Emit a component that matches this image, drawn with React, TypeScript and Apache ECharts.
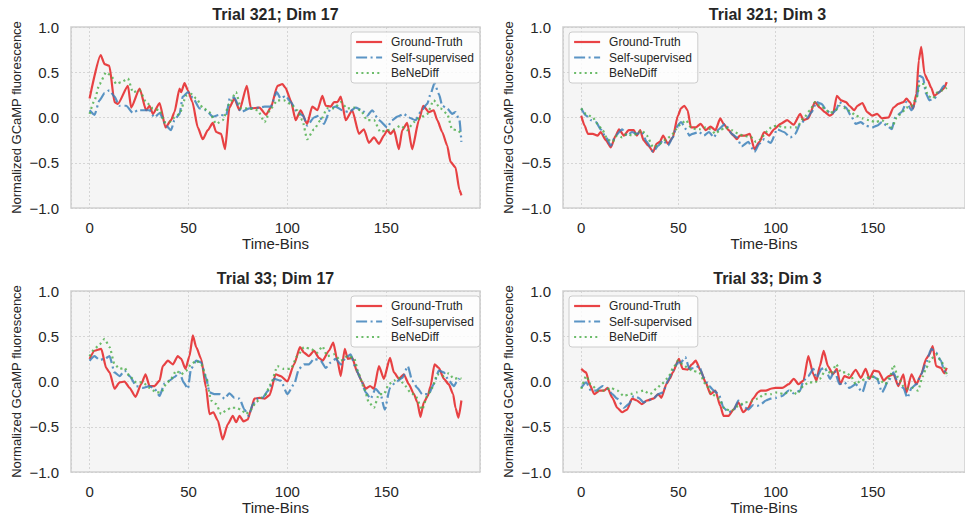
import React, { useEffect, useRef } from "react";
import * as echarts from "echarts";

// ---- data: [time-bin, normalized fluorescence] ----
const t321d17GT = [[0,0.21],[5.6,0.69],[7.6,0.59],[10,0.57],[12.6,0.17],[14.3,0.15],[19.4,0.35],[21,0.11],[25.3,0.32],[28.6,0.08],[30.3,0.13],[32,0.04],[35.4,0.16],[38.4,-0.11],[41.2,-0.03],[42.9,0.06],[45.5,0.32],[46.3,0.28],[48,0.38],[49.7,0.3],[52,0.17],[54.7,-0.11],[57.2,-0.24],[59.8,-0.14],[62.3,-0.06],[64,-0.16],[66.5,-0.18],[68.5,-0.35],[70.7,0.11],[73.2,0.21],[75.8,0.08],[79.5,0.35],[81.6,0.1],[85.9,0.11],[89.2,0.03],[91.6,0.11],[95,0.35],[97.5,0.37],[99,0.33],[101.7,0.19],[104.2,-0.03],[106.7,0.08],[110,-0.07],[112.6,0.12],[115.2,0.08],[117.7,0.24],[119.4,0.13],[121.9,0.12],[123.6,0.17],[125.3,0.17],[127,0.23],[129.5,-0.03],[132.8,0.08],[136.2,-0.18],[138.7,-0.13],[141.2,-0.28],[143.8,-0.22],[146.3,-0.29],[148.8,-0.2],[150.5,-0.14],[152.2,-0.18],[153.9,-0.14],[156.4,-0.35],[158.1,-0.14],[160.6,-0.06],[163.1,-0.35],[166.5,-0.03],[168.7,0.13],[171.5,0.06],[174,0.08],[175.8,-0.03],[178.3,-0.16],[180.8,-0.31],[182.5,-0.49],[185,-0.55],[187,-0.8],[188,-0.86]];
const t321d17SS = [[0,0.08],[2.5,0.03],[5,0.19],[7.6,0.27],[10,0.3],[12.6,0.23],[15,0.13],[18.5,0.13],[21.9,0.05],[24.4,0.08],[27.8,0.08],[30.3,0.08],[32.8,0],[35.4,0.05],[38.7,-0.09],[41.2,-0.14],[42.9,-0.03],[45.5,0.04],[47.1,0.23],[49.7,0.28],[52.2,0.22],[55.6,0.1],[58.9,0.08],[62.3,0.01],[65.7,0.03],[69,0.02],[71,0.22],[73.2,0.22],[76.6,0.06],[80.8,0.1],[85.9,0.11],[88.5,0.12],[91.6,0.12],[94.6,0.28],[96.6,0.21],[99.2,0.24],[101.7,0.17],[105,0.06],[108,0.02],[110,-0.09],[113.5,0],[116,0.02],[118.5,-0.07],[121.9,0.1],[124.4,0.12],[127.8,0.08],[131.1,0.06],[134.5,0.11],[137.9,0.08],[140.4,0.02],[142.9,0.08],[146.3,-0.03],[150.5,-0.11],[153,-0.03],[155.6,0.01],[158.9,0.04],[161.4,0],[164.8,-0.03],[167.3,0.06],[170.7,0.15],[172.4,0.26],[174.4,0.38],[176.6,0.26],[178.3,0.13],[180.8,0.1],[183.3,0.04],[185,0.06],[187,-0.03],[188,-0.27]];
const t321d17BD = [[0,0.04],[2.5,0.19],[5,0.37],[8.4,0.5],[10.9,0.46],[13.5,0.37],[16,0.39],[19.4,0.43],[21.9,0.28],[25.3,0.3],[28.6,0.17],[32,0.1],[35.4,0.08],[37.9,-0.05],[40.4,-0.05],[42.9,0],[45.5,0.04],[48.8,0.24],[51.3,0.26],[53.9,0.21],[57.2,0.11],[60.6,0.06],[64,-0.07],[67.3,-0.03],[70.7,0.15],[74,0.28],[76.6,0.1],[80.8,0.1],[85,0.08],[88.5,-0.05],[91.6,0.1],[95,0.19],[98.3,0.19],[101.7,0.15],[105,0.08],[107.6,-0.03],[110,-0.24],[113.5,-0.13],[116.8,-0.03],[120.2,0.1],[123.6,0.1],[127,0.17],[130.3,0.1],[133.7,0.11],[137,0.08],[140.4,-0.03],[143.8,-0.03],[147.1,-0.16],[150.5,-0.14],[153.9,-0.13],[157.2,-0.09],[160.6,-0.14],[164,-0.05],[167.3,0],[170.7,0.04],[174,0.19],[177.4,0.1],[180.8,0.04],[183.3,-0.13],[185.9,-0.14],[188,-0.18]];

const t321d3GT = [[0,0.02],[1.7,-0.09],[3.4,-0.18],[5.9,-0.18],[8.4,-0.2],[10,-0.16],[12.6,-0.25],[15.2,-0.33],[17.7,-0.2],[19.4,-0.13],[21.9,-0.2],[24.4,-0.14],[27,-0.14],[28.6,-0.2],[30.3,-0.14],[32,-0.25],[34.5,-0.31],[37,-0.38],[38.7,-0.29],[40.4,-0.27],[42.1,-0.2],[44.6,-0.29],[47.1,-0.22],[49.7,0.02],[51.3,0.1],[53,0.13],[54.7,0.08],[56.4,-0.11],[58.9,-0.11],[61.4,-0.07],[64,-0.14],[66.5,-0.1],[69,-0.14],[71.5,-0.01],[73.2,-0.07],[75.8,-0.14],[78.3,-0.2],[80,-0.24],[81.6,-0.2],[84.2,-0.2],[86.7,-0.18],[89.1,-0.35],[91.7,-0.27],[94.1,-0.16],[96.6,-0.2],[99.2,-0.13],[102.5,-0.07],[105.9,-0.03],[109.3,-0.08],[112.6,0.04],[114.3,-0.03],[116.8,-0.01],[120.2,0.17],[122.7,0.11],[125.3,0.06],[127.8,0.02],[129.5,0.04],[131.5,0.24],[133.7,0.19],[136.2,0.17],[137.9,0.13],[140.4,0.08],[142.1,0.13],[144.6,0.16],[147.1,0.06],[149.7,0.02],[152.2,0.04],[154.7,-0.01],[158.1,0],[160.6,0.11],[163.1,0.15],[165.7,0.17],[167.3,0.21],[169,0.17],[170.7,0.1],[172.4,0.26],[173.6,0.63],[174.9,0.78],[176.6,0.48],[178.3,0.41],[180,0.33],[181.6,0.24],[184.2,0.28],[186.5,0.32],[188,0.39]];
const t321d3SS = [[0,0.1],[2.5,0.02],[5,-0.03],[7.6,-0.05],[10,-0.13],[12.6,-0.22],[15.2,-0.31],[17.7,-0.2],[21,-0.13],[23.6,-0.2],[26.1,-0.16],[28.6,-0.18],[31.1,-0.16],[33.7,-0.27],[37,-0.38],[39.6,-0.31],[42.1,-0.25],[44.6,-0.31],[47.1,-0.22],[48.8,-0.11],[51.3,-0.05],[53.9,-0.13],[55.6,-0.2],[57.2,-0.18],[60.6,-0.16],[63.1,-0.2],[65.7,-0.16],[68.2,-0.22],[70.7,-0.13],[74,-0.07],[77.4,-0.18],[80,-0.22],[82.5,-0.32],[85.9,-0.27],[89.1,-0.38],[91.6,-0.29],[94.1,-0.24],[97.5,-0.28],[100.8,-0.13],[104.2,-0.16],[107.6,-0.22],[110.1,-0.18],[112.6,-0.07],[116,-0.01],[118.5,0.06],[121,0.17],[123.6,0.15],[126.1,0.08],[128.6,0.04],[131.1,0.08],[132.8,0.17],[136.2,0.11],[138.7,0.02],[141.2,-0.07],[143.8,-0.05],[146.3,-0.09],[149.7,-0.11],[152.2,-0.09],[154.7,-0.05],[157.2,-0.09],[159.8,-0.13],[161.4,0],[164.8,0.06],[167.3,0.17],[169.9,0.08],[172.4,0.19],[174.1,0.46],[175.8,0.44],[177.4,0.26],[179.1,0.19],[181.6,0.21],[184.2,0.28],[186.5,0.35],[188,0.35]];
const t321d3BD = [[0,0.1],[2.5,0.04],[5.9,0],[8.4,-0.07],[10.9,-0.14],[13.5,-0.24],[16,-0.27],[18.5,-0.2],[21,-0.22],[23.6,-0.18],[26.1,-0.2],[28.6,-0.18],[31.1,-0.14],[33.7,-0.2],[37,-0.33],[40.4,-0.29],[43.8,-0.24],[46.3,-0.2],[48.8,-0.13],[51.3,-0.07],[53.9,-0.03],[56.4,-0.11],[58.9,-0.13],[61.4,-0.13],[64,-0.11],[66.5,-0.13],[69,-0.18],[71.5,-0.14],[74,-0.11],[77.4,-0.14],[80.8,-0.18],[83.3,-0.2],[87.5,-0.22],[89.9,-0.27],[92.4,-0.24],[95,-0.16],[98.3,-0.1],[100.8,-0.09],[104.2,-0.11],[107.6,-0.11],[110.9,-0.11],[114.3,-0.01],[117.7,0.08],[120.2,0.17],[122.7,0.13],[125.3,0.1],[127.8,0.05],[130.3,0.07],[132.8,0.13],[136.2,0.1],[138.7,0.06],[141.2,0.02],[144.6,-0.01],[148,-0.03],[151.3,-0.05],[154.7,-0.03],[157.2,-0.07],[159.8,-0.11],[162.3,0],[164.8,0.05],[167.3,0.11],[169.9,0.13],[172.4,0.21],[174.1,0.37],[176.6,0.37],[178.3,0.24],[180.8,0.21],[183.3,0.28],[185.9,0.3],[188,0.33]];

const t33d17GT = [[0,0.25],[2.5,0.34],[5.9,0.36],[8.4,0.15],[10.1,0.1],[12.6,-0.08],[15.2,-0.01],[17.7,0],[20.2,-0.07],[23.2,-0.17],[26.1,-0.03],[28.3,0.08],[30.3,-0.05],[32.8,-0.05],[35.4,0.01],[37,0.17],[39.6,0.23],[42.1,0.19],[44.6,0.28],[46.3,0.25],[48.5,0.14],[50.5,0.28],[52.2,0.51],[53.9,0.38],[56.4,0.25],[58.9,-0.07],[60.6,-0.36],[62.6,-0.34],[64.8,-0.43],[67.3,-0.64],[69.9,-0.47],[72.4,-0.38],[74.1,-0.45],[75.8,-0.38],[77.8,-0.44],[80,-0.42],[81.6,-0.31],[83.3,-0.19],[85.9,-0.18],[88.5,-0.19],[91,-0.15],[94.1,0.08],[96.6,0.06],[100,0],[103.4,0.19],[106.4,0.38],[108.4,0.32],[110.9,0.28],[113.5,0.34],[116,0.26],[117.8,0.23],[121,0.34],[123.2,0.43],[125.3,0.23],[127,0.06],[129,0.36],[130.6,0.25],[132.8,0.26],[135.4,0.1],[137.9,-0.01],[139.6,-0.08],[141.8,-0.05],[143.8,-0.08],[146.3,0.17],[148.8,0.03],[151.9,0.26],[153.9,0.1],[156.4,0.03],[158.9,0.08],[161.4,-0.03],[164,-0.14],[165.7,-0.23],[167.3,-0.39],[169,-0.23],[171,-0.16],[172.4,-0.05],[174.4,0.19],[176.6,0.15],[179.1,0.03],[181.6,-0.03],[183.8,-0.14],[185,-0.29],[186.5,-0.4],[188,-0.21]];
const t33d17SS = [[0,0.23],[2.5,0.28],[5,0.24],[7.6,0.25],[10.1,0.28],[12.6,0.1],[15.2,0.06],[17.7,0.12],[20.2,0.06],[23.6,-0.05],[26.9,-0.07],[30.3,-0.05],[32.8,-0.08],[35.4,-0.16],[37.9,-0.02],[40.4,0.01],[42.9,0.05],[45.5,0.1],[47.5,-0.01],[49.7,-0.08],[51.3,0.14],[53.9,0.23],[56.4,0.21],[58.9,0.04],[60.6,-0.12],[63.1,-0.14],[65.7,-0.14],[68.2,-0.19],[70.7,-0.13],[73.2,-0.18],[75.8,-0.19],[78.3,-0.31],[80.5,-0.38],[82.5,-0.25],[85,-0.19],[87.5,-0.18],[90.3,-0.1],[93.3,0.03],[96.6,0.01],[100,-0.14],[103.4,-0.03],[105.9,0.14],[108.4,0.19],[110.9,0.19],[113.5,0.25],[116.8,0.23],[119.4,0.15],[121.9,0.21],[124.4,0.25],[127,0.19],[129.5,0.26],[132,0.3],[134.5,0.15],[137,0.03],[139.6,-0.12],[142.1,-0.19],[144.6,-0.08],[147.1,-0.14],[149.2,-0.31],[151.9,-0.07],[154.7,-0.01],[158.1,0.04],[160.9,0.17],[163.1,0.01],[165.7,-0.07],[168.2,-0.14],[171.5,-0.14],[174,-0.03],[176.6,0.12],[179.1,0.1],[181.6,0.01],[184.2,-0.05],[186.5,0.03],[188,-0.02]];
const t33d17BD = [[0,0.28],[2.5,0.36],[5,0.41],[7.6,0.47],[10.1,0.38],[12.6,0.19],[15.2,0.14],[17.7,0.15],[20.2,0.06],[23.6,-0.01],[26.9,-0.01],[30.3,-0.07],[33.7,-0.12],[36.2,-0.12],[38.7,-0.03],[41.2,0.03],[43.8,0.12],[46.3,0.08],[48.8,0.12],[51.3,0.19],[53.9,0.23],[56.4,0.19],[58.9,0.06],[61.4,-0.21],[64,-0.25],[66.5,-0.36],[69,-0.32],[71.5,-0.29],[74.1,-0.29],[76.6,-0.31],[79.1,-0.36],[81.6,-0.31],[84.2,-0.23],[86.7,-0.18],[88.7,-0.15],[91.6,-0.03],[95,0.17],[98.3,0.14],[101.7,0.14],[105,0.28],[108.4,0.38],[111.8,0.36],[115.2,0.32],[117.7,0.39],[120.2,0.28],[123.6,0.3],[127,0.23],[130.3,0.28],[133.7,0.26],[136.2,0.08],[138.7,-0.07],[141.2,-0.23],[143.8,-0.29],[146.3,-0.14],[148.8,-0.14],[151.3,-0.03],[153.9,0.01],[156.4,0.04],[158.9,-0.03],[162.3,-0.12],[164.8,-0.16],[168.2,-0.31],[170.7,-0.16],[173.2,-0.07],[175.8,0.08],[179.1,0.06],[181.6,0.09],[184.2,0.03],[186.7,0.04],[188,0.03]];

const t33d3GT = [[0,0.14],[2.5,0.1],[4.2,-0.03],[6.7,-0.14],[9.3,-0.1],[11.8,-0.1],[13.5,-0.07],[16,-0.18],[18.5,-0.29],[21,-0.34],[23.6,-0.31],[26.1,-0.19],[28.6,-0.21],[31.1,-0.25],[33.7,-0.21],[37,-0.19],[39.6,-0.14],[41.2,-0.18],[43.8,-0.03],[45.5,0.03],[47.1,0.1],[50.2,0.25],[52.2,0.14],[54.7,0.13],[56.9,0.19],[58.9,0.23],[61.4,0.12],[64,-0.01],[66.5,-0.14],[69,-0.1],[71.5,-0.27],[73.2,-0.38],[75.8,-0.38],[78.3,-0.31],[80.8,-0.23],[83.3,-0.34],[85.9,-0.29],[88.4,-0.19],[90.9,-0.12],[92.4,-0.1],[95,-0.1],[97.5,-0.08],[100,-0.07],[103.4,-0.07],[106.7,-0.03],[109.3,0.03],[111.8,-0.03],[114.3,0.01],[116.8,0.28],[119.4,0.08],[121,0.01],[122.7,0.17],[124.7,0.34],[126.9,0.17],[129.5,0.08],[131.5,0.14],[133.2,-0.03],[135.4,0.06],[137.9,0.04],[141.2,0.13],[143.8,0.04],[146.3,0.14],[148.3,0.03],[150.5,0.12],[153,0.11],[155.6,0.01],[158.1,0.06],[160.6,0.08],[163.1,-0.05],[165.7,0.08],[167.3,-0.12],[169.9,0.08],[172.4,-0.03],[174.9,0.08],[177.4,0.25],[179.1,0.3],[180.8,0.39],[182.5,0.17],[185,0.15],[186.7,0.09],[188,0.15]];
const t33d3SS = [[0,-0.07],[2.5,-0.01],[5,-0.1],[7.6,-0.1],[10.9,-0.05],[13.5,-0.08],[16,-0.14],[18.5,-0.19],[21.9,-0.29],[24.4,-0.25],[27,-0.16],[29.5,-0.18],[32,-0.23],[34.5,-0.21],[37,-0.19],[39.6,-0.14],[42.1,-0.12],[44.6,0.01],[47.1,0.12],[49.7,0.21],[51.3,0.21],[53.5,0.27],[55.6,0.14],[58.1,0.15],[60.6,0.17],[63.1,0.04],[65.7,-0.05],[68.2,-0.1],[70.7,-0.14],[73.2,-0.29],[75.8,-0.34],[78.3,-0.32],[80.8,-0.21],[83.3,-0.27],[85.9,-0.31],[88.4,-0.26],[90.5,-0.27],[92.4,-0.25],[95,-0.21],[97.5,-0.19],[100,-0.18],[103.4,-0.16],[106.7,-0.1],[109.3,-0.13],[112.6,-0.1],[114.3,0.01],[116.8,0.06],[119.4,0.14],[121,0.04],[123.6,0.14],[125.3,0.15],[128,0.03],[130.3,0.12],[132.8,-0.03],[135.4,-0.01],[137.9,-0.07],[141.2,-0.03],[144.6,-0.12],[147.1,0.03],[149.7,0.06],[152.2,0.03],[154.7,-0.12],[158.1,0.01],[160.6,0.1],[163.1,-0.03],[165.7,-0.07],[167.8,-0.18],[169.9,-0.07],[172.4,-0.03],[174.9,0.08],[177.4,0.21],[180,0.36],[182.5,0.32],[185,0.23],[186.7,0.12],[188,0.06]];
const t33d3BD = [[0,-0.08],[2.5,0.06],[5,-0.03],[8.4,-0.1],[11.8,-0.1],[15.2,-0.07],[18.5,-0.1],[21.9,-0.16],[25.3,-0.14],[28.6,-0.12],[32,-0.1],[35.4,-0.14],[38.7,-0.08],[41.2,-0.03],[44.6,0.04],[47.1,0.14],[49.7,0.23],[52.2,0.19],[54.7,0.15],[57.2,0.12],[60.6,0.1],[64,-0.03],[67.3,-0.14],[70.7,-0.19],[74.1,-0.31],[77.4,-0.32],[80.8,-0.27],[84.2,-0.23],[87.5,-0.22],[90.8,-0.19],[94.1,-0.14],[97.5,-0.14],[100.8,-0.12],[104.2,-0.14],[107.6,-0.1],[110.9,-0.14],[114.3,-0.05],[116.8,-0.01],[120.2,-0.01],[122.7,0.03],[126.1,0.14],[128.6,0.08],[131.1,0.19],[133.7,0.1],[136.2,0.1],[138.7,0.06],[141.2,-0.03],[143.8,0.01],[146.3,0.03],[148.8,0.06],[151.3,0.04],[153.9,0.01],[156.4,-0.03],[158.9,0.06],[160.6,0.18],[163.1,0.04],[165.7,-0.05],[168.2,-0.08],[170.7,-0.07],[173.2,-0.1],[175.8,0.06],[177.4,0.15],[180,0.25],[182.5,0.3],[185,0.23],[188,0.08]];

const seriesNames = ["Ground-Truth", "Self-supervised", "BeNeDiff"];
const panelTitles = ["Trial 321; Dim 17", "Trial 321; Dim 3", "Trial 33; Dim 17", "Trial 33; Dim 3"];
const panelData = [
  [t321d17GT, t321d17SS, t321d17BD],
  [t321d3GT, t321d3SS, t321d3BD],
  [t33d17GT, t33d17SS, t33d17BD],
  [t33d3GT, t33d3SS, t33d3BD],
];
const yTicks = [-1, -0.5, 0, 0.5, 1];
const xLabel = "Time-Bins";
const yLabel = "Normalized GCaMP fluorescence";

// ---- layout / style ----
const FONT = '"Liberation Sans", Arial, Helvetica, sans-serif';
const TEXT = "#262626";
const COLORS = ["#e41a1c", "#377eb8", "#4daf4a"];
const DASHES: any[] = ["solid", [11, 3.5, 2, 3.5], [2, 3.3]];
const GRIDS = [
  { left: 71, top: 27, legendLeft: 351 },
  { left: 563, top: 27, legendLeft: 569 },
  { left: 71, top: 291, legendLeft: 351 },
  { left: 563, top: 291, legendLeft: 569 },
];
const GW = 409;
const GH = 181;

const fmtY = (v: number) => (v < 0 ? "\u2212" : "") + Math.abs(v).toFixed(1);

export default function App() {
  const ref = useRef<HTMLDivElement>(null);
  useEffect(() => {
    if (!ref.current) return;
    const chart = echarts.init(ref.current, undefined, { renderer: "svg" });
    const grid: any[] = [];
    const xAxis: any[] = [];
    const yAxis: any[] = [];
    const series: any[] = [];
    const legend: any[] = [];
    const graphic: any[] = [];
    GRIDS.forEach((g, i) => {
      grid.push({
        left: g.left, top: g.top, width: GW, height: GH,
        show: true, backgroundColor: "#f5f5f5", borderColor: "#cfcfcf", borderWidth: 1.5,
        containLabel: false,
      });
      xAxis.push({
        type: "value", gridIndex: i, min: -9.4, max: 197.4, splitNumber: 4,
        axisLine: { show: false }, axisTick: { show: false },
        axisLabel: { showMinLabel: false, showMaxLabel: false, color: TEXT, fontSize: 15, fontFamily: FONT, margin: 12 },
        splitLine: { show: true, lineStyle: { color: "#cdcdcd", width: 0.8, type: [2, 2] } },
        name: xLabel, nameLocation: "middle", nameGap: 28,
        nameTextStyle: { color: TEXT, fontSize: 15, fontFamily: FONT },
      });
      yAxis.push({
        type: "value", gridIndex: i, min: yTicks[0], max: yTicks[yTicks.length - 1], interval: 0.5,
        axisLine: { show: false }, axisTick: { show: false },
        axisLabel: { color: TEXT, fontSize: 15, fontFamily: FONT, margin: 12, formatter: fmtY },
        splitLine: { show: true, lineStyle: { color: "#cdcdcd", width: 0.8, type: [2, 2] } },
        name: yLabel, nameLocation: "middle", nameGap: 48,
        nameTextStyle: { color: TEXT, fontSize: 13, fontFamily: FONT },
      });
      panelData[i].forEach((d, k) => {
        series.push({
          type: "line", name: seriesNames[k], xAxisIndex: i, yAxisIndex: i,
          data: d, symbol: "none", showSymbol: false, smooth: 0.2, smoothMonotone: "x",
          color: COLORS[k],
          lineStyle: { color: COLORS[k], width: 2.2, type: DASHES[k], opacity: 0.82, cap: "butt" },
          itemStyle: { color: COLORS[k] },
          emphasis: { disabled: true },
          z: 2 + k,
        });
      });
      legend.push({
        data: seriesNames, orient: "vertical", left: g.legendLeft, top: g.top + 5,
        itemWidth: 26, itemHeight: 13, itemGap: 3.5,
        padding: [4, 6, 4, 4],
        backgroundColor: "rgba(255,255,255,0.8)", borderColor: "#cccccc", borderWidth: 1, borderRadius: 3,
        textStyle: { color: TEXT, fontSize: 12, fontFamily: FONT, padding: [0, 0, 0, 4] },
        lineStyle: { width: 2.2 },
        itemStyle: { opacity: 0 },
        selectedMode: false,
      });
      graphic.push({
        type: "text", x: g.left + GW / 2, y: g.top - 13,
        style: {
          text: panelTitles[i], fill: TEXT, font: `bold 16px ${FONT}`,
          align: "center", verticalAlign: "middle", textAlign: "center", textVerticalAlign: "middle",
        },
      });
    });
    chart.setOption({
      animation: false,
      backgroundColor: "#ffffff",
      textStyle: { fontFamily: FONT },
      grid, xAxis, yAxis, series, legend, graphic,
    });
    return () => chart.dispose();
  }, []);
  return (
    <div
      ref={ref}
      style={{ position: "fixed", left: 0, top: 0, width: 965, height: 521, background: "#fff" }}
    />
  );
}
